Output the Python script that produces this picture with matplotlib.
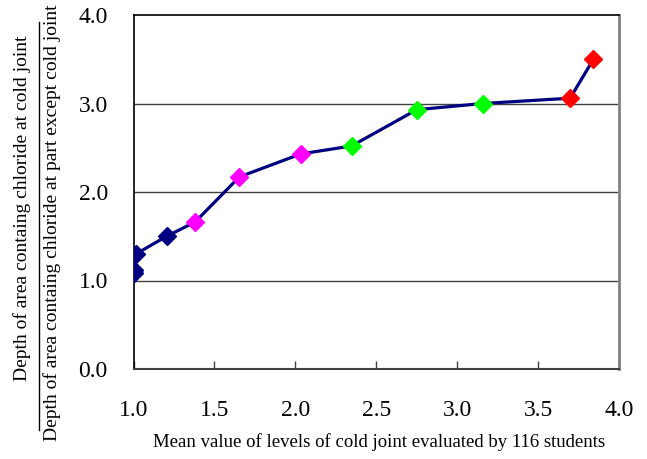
import matplotlib
matplotlib.use("Agg")
import matplotlib.pyplot as plt
from matplotlib.lines import Line2D

plt.rcParams['font.family'] = ['Liberation Serif', 'DejaVu Serif']

x_vals = [1.00, 1.005, 1.015, 1.205, 1.38, 1.654, 2.033, 2.348, 2.75, 3.158, 3.698, 3.842]
y_vals = [1.09, 1.12, 1.30, 1.50, 1.66, 2.17, 2.43, 2.52, 2.93, 3.00, 3.06, 3.50]
point_colors = ['#000080', '#000080', '#000080', '#000080',
                '#FF00FF', '#FF00FF', '#FF00FF',
                '#00FF00', '#00FF00', '#00FF00',
                '#FF0000', '#FF0000']
x_ticks = [1.0, 1.5, 2.0, 2.5, 3.0, 3.5, 4.0]
y_ticks = [0.0, 1.0, 2.0, 3.0, 4.0]
x_label = "Mean value of levels of cold joint evaluated by 116 students"
y_num = "Depth of area containg chloride at cold joint"
y_den = "Depth of area containg chloride at part except cold joint"

W, H = 647, 459
fig = plt.figure(figsize=(W / 100, H / 100), dpi=100)
L, R, T, B = 133.5, 619, 15, 369
ax = fig.add_axes([L / W, 1 - B / H, (R - L) / W, (B - T) / H])

ax.plot(x_vals, y_vals, color='#000080', lw=2.3, zorder=3)
for xv, yv, c in zip(x_vals, y_vals, point_colors):
    ax.plot([xv], [yv], marker='D', ms=9, color=c, mec=c, zorder=4, linestyle='none')

ax.set_xlim(1.0, 4.0)
ax.set_ylim(0.0, 4.0)
ax.set_xticks(x_ticks)
ax.set_yticks(y_ticks)
ax.set_xticklabels([f"{v:.1f}" for v in x_ticks])
ax.set_yticklabels([f"{v:.1f}" for v in y_ticks])
for yv in [1.0, 2.0, 3.0]:
    ax.axhline(yv, color='#404040', lw=1.0, zorder=1)

ax.tick_params(axis='x', direction='in', length=6, width=1, color='#404040',
               labelsize=17, pad=22)
ax.tick_params(axis='y', length=0, labelsize=17, pad=18.5)

ax.spines['left'].set_color('black')
ax.spines['left'].set_linewidth(1.2)
ax.spines['top'].set_color('black')
ax.spines['top'].set_linewidth(1.2)
ax.spines['right'].set_color('#808080')
ax.spines['right'].set_linewidth(2.0)
ax.spines['bottom'].set_color('#404040')
ax.spines['bottom'].set_linewidth(1.5)

fig.text(379 / W, 1 - 442 / H, x_label, ha='center', va='center', fontsize=13.5)

fig.text(22 / W, 1 - 208 / H, y_num, rotation=90, ha='center', va='center', fontsize=14)
fig.text(52 / W, 1 - 223 / H, y_den, rotation=90, ha='center', va='center', fontsize=14)
fig.add_artist(Line2D([38.5 / W, 38.5 / W], [1 - 22 / H, 1 - 430 / H],
                      transform=fig.transFigure, color='black', lw=1.0))

fig.savefig("out.png", dpi=100)
